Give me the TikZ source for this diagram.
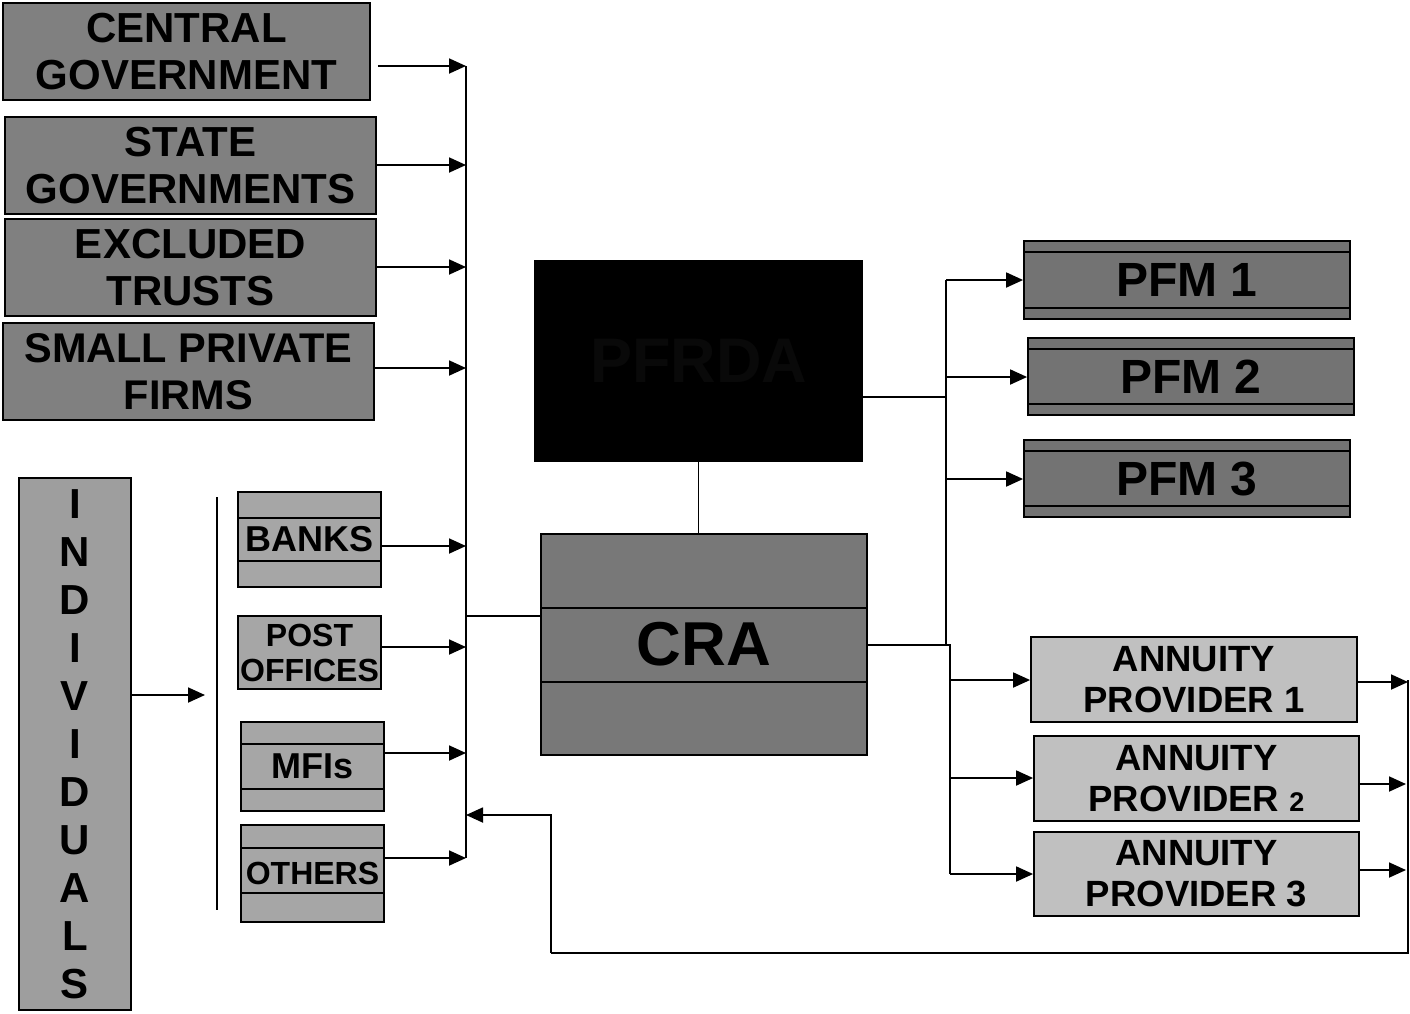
\documentclass[tikz,border=0pt]{standalone}
\usepackage{fontspec}
\setmainfont{Liberation Sans}
\usetikzlibrary{arrows.meta}
\newcommand\fsz[2]{\fontsize{#1}{#2}\selectfont\bfseries}
\definecolor{gA}{RGB}{128,128,128}
\definecolor{gInd}{RGB}{158,158,158}
\definecolor{gSm}{RGB}{166,166,166}
\definecolor{gCRA}{RGB}{120,120,120}
\definecolor{gPFM}{RGB}{115,115,115}
\definecolor{gAnn}{RGB}{192,192,192}
\definecolor{nearblack}{RGB}{9,9,9}
\begin{document}
\begin{tikzpicture}[x=1pt,y=-1pt,
  box/.style={draw=black,line width=1.8pt,inner sep=0pt,align=center,text=black},
  conn/.style={line width=1.8pt},
  arr/.style={line width=1.8pt,-{Triangle[length=17pt,width=15pt]}}]
\useasboundingbox (0,0) rectangle (1410,1013);
% employer boxes
\node[box,fill=gA,minimum width=367,minimum height=97,font=\fsz{42}{47}] (cg) at (186.5,51.5) {CENTRAL\\GOVERNMENT};
\node[box,fill=gA,minimum width=371,minimum height=97,font=\fsz{42}{47}] (sg) at (190.5,165.5) {STATE\\GOVERNMENTS};
\node[box,fill=gA,minimum width=371,minimum height=97,font=\fsz{42}{47}] (et) at (190.5,267.5) {EXCLUDED\\TRUSTS};
\node[box,fill=gA,minimum width=371,minimum height=97,font=\fsz{41.5}{47}] (sp) at (188.5,371.5) {SMALL PRIVATE\\FIRMS};
% individuals
\node[box,fill=gInd,minimum width=112,minimum height=532,font=\fsz{42}{48}] (ind) at (75,744) {I\\N\\D\\I\\V\\I\\D\\U\\A\\L\\S};
% POP boxes
\node[box,fill=gSm,minimum width=143,minimum height=95,font=\fsz{36}{40}] (banks) at (309.5,539.5) {BANKS};
\draw[line width=1.8pt] (banks.west |- 0,518) -- (banks.east |- 0,518);
\draw[line width=1.8pt] (banks.west |- 0,561) -- (banks.east |- 0,561);
\node[box,fill=gSm,minimum width=143,minimum height=73,font=\fsz{32}{35}] (post) at (309.5,652.5) {POST\\OFFICES};
\node[box,fill=gSm,minimum width=143,minimum height=89,font=\fsz{36}{40}] (mfi) at (312.5,766.5) {MFIs};
\draw[line width=1.8pt] (mfi.west |- 0,744) -- (mfi.east |- 0,744);
\draw[line width=1.8pt] (mfi.west |- 0,789) -- (mfi.east |- 0,789);
\node[box,fill=gSm,minimum width=143,minimum height=97,font=\fsz{32}{35}] (oth) at (312.5,873.5) {OTHERS};
\draw[line width=1.8pt] (oth.west |- 0,848) -- (oth.east |- 0,848);
\draw[line width=1.8pt] (oth.west |- 0,893) -- (oth.east |- 0,893);
% PFRDA and CRA
\node[box,fill=black,minimum width=327,minimum height=200,font=\fsz{63}{70},text=nearblack] (pfrda) at (698.5,361) {PFRDA};
\node[box,fill=gCRA,minimum width=326,minimum height=221,font=\fsz{62}{70}] (cra) at (704,644.5) {CRA};
\draw[line width=1.8pt] (cra.west |- 0,608) -- (cra.east |- 0,608);
\draw[line width=1.8pt] (cra.west |- 0,682) -- (cra.east |- 0,682);
% PFMs
\node[box,fill=gPFM,minimum width=326,minimum height=78,font=\fsz{48}{52}] (pfm1) at (1187,280) {PFM 1};
\draw[line width=1.8pt] (pfm1.west |- 0,252) -- (pfm1.east |- 0,252);
\draw[line width=1.8pt] (pfm1.west |- 0,308) -- (pfm1.east |- 0,308);
\node[box,fill=gPFM,minimum width=326,minimum height=77,font=\fsz{48}{52}] (pfm2) at (1191,376.5) {PFM 2};
\draw[line width=1.8pt] (pfm2.west |- 0,349) -- (pfm2.east |- 0,349);
\draw[line width=1.8pt] (pfm2.west |- 0,404) -- (pfm2.east |- 0,404);
\node[box,fill=gPFM,minimum width=326,minimum height=77,font=\fsz{48}{52}] (pfm3) at (1187,478.5) {PFM 3};
\draw[line width=1.8pt] (pfm3.west |- 0,451) -- (pfm3.east |- 0,451);
\draw[line width=1.8pt] (pfm3.west |- 0,506) -- (pfm3.east |- 0,506);
% Annuity providers
\node[box,fill=gAnn,minimum width=326,minimum height=85,font=\fsz{36.5}{41}] (ap1) at (1194,679.5) {ANNUITY\\PROVIDER 1};
\node[box,fill=gAnn,minimum width=325,minimum height=85,font=\fsz{36.5}{41}] (ap2) at (1196.5,778.5) {ANNUITY\\PROVIDER {\fontsize{27}{30}\selectfont 2}};
\node[box,fill=gAnn,minimum width=325,minimum height=84,font=\fsz{36.5}{41}] (ap3) at (1196.5,874) {ANNUITY\\PROVIDER 3};
% bus on the left
\coordinate (busT) at (466,66);
\coordinate (busB) at (466,858);
\draw[conn] (busT) -- (busB);
\draw[arr] ([xshift=7pt]cg.east |- 0,66) -- (busT);
\draw[arr] (sg.east |- 0,165) -- (busT |- 0,165);
\draw[arr] (et.east |- 0,267) -- (busT |- 0,267);
\draw[arr] (sp.east |- 0,368) -- (busT |- 0,368);
\draw[arr] (banks.east |- 0,546) -- (busT |- 0,546);
\draw[arr] (post.east |- 0,647) -- (busT |- 0,647);
\draw[arr] (mfi.east |- 0,753) -- (busT |- 0,753);
\draw[arr] (oth.east |- 0,858) -- (busB);
% individuals to POPs
\coordinate (indT) at (217,497);
\coordinate (indB) at (217,910);
\draw[line width=1.2pt] (indT) -- (indB);
\draw[arr] (ind.east |- 0,695) -- (205,695);
% CRA to bus
\draw[conn] (cra.west |- 0,616) -- (busT |- 0,616);
% PFRDA to CRA
\draw[conn] (pfrda.south) -- (pfrda.south |- cra.north);
% PFRDA to PFMs
\coordinate (pT) at (946,280);
\coordinate (pB) at (946,645);
\draw[conn] (pfrda.east |- 0,397) -- (pT |- 0,397);
\draw[conn] (pT) -- (pB);
\draw[arr] (pT) -- (pfm1.west |- pT);
\draw[arr] (pT |- 0,377) -- (pfm2.west |- 0,377);
\draw[arr] (pT |- 0,479) -- (pfm3.west |- 0,479);
% CRA to annuity providers
\coordinate (aT) at (950,645);
\coordinate (aB) at (950,874);
\draw[conn] (cra.east |- 0,645) -- (aT) -- (aB);
\draw[arr] (aT |- 0,680) -- (ap1.west |- 0,680);
\draw[arr] (aT |- 0,778) -- (ap2.west |- 0,778);
\draw[arr] (aB) -- (ap3.west |- aB);
% annuity feedback
\coordinate (rT) at (1408,680);
\coordinate (rB) at (1408,953);
\coordinate (fb) at (551,953);
\draw[arr] (ap1.east |- 0,682) -- (rT |- 0,682);
\draw[arr] (ap2.east |- 0,784) -- (1406,784);
\draw[arr] (ap3.east |- 0,870) -- (1406,870);
\draw[conn] (rT) -- (rB) -- (fb);
\draw[arr] (fb) -- (fb |- 0,815) -- (busT |- 0,815);
\end{tikzpicture}
\end{document}
